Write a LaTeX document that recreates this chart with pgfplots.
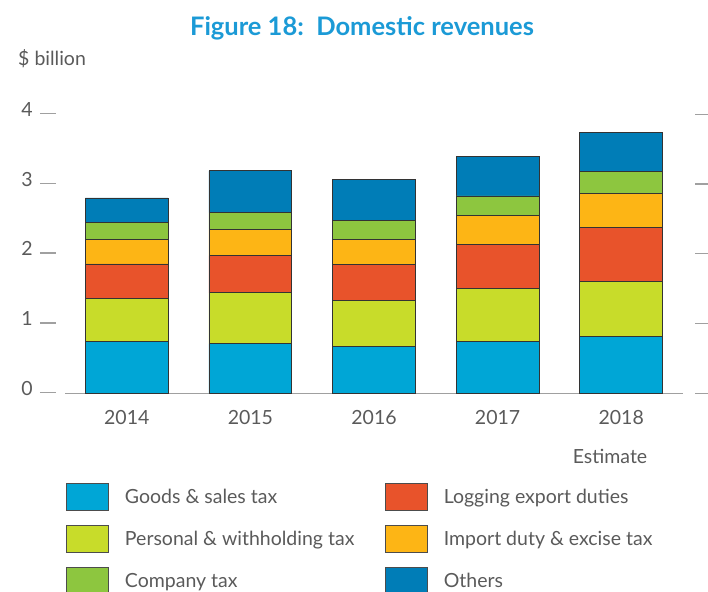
\documentclass[border=0pt]{standalone}
\usepackage{fontspec}
\setmainfont{Lato}
\usepackage{pgfplots}
\usepackage{pgfplotstable}
\pgfplotsset{compat=1.18}

\definecolor{cGoods}{HTML}{00A6D6}
\definecolor{cPersonal}{HTML}{C8DC2A}
\definecolor{cLogging}{HTML}{E8532B}
\definecolor{cImport}{HTML}{FDB515}
\definecolor{cCompany}{HTML}{8DC63F}
\definecolor{cOthers}{HTML}{007DB7}
\definecolor{titleblue}{HTML}{1B9AD6}
\definecolor{txtgray}{HTML}{5A5A5A}
\definecolor{tickgray}{HTML}{A0A0A0}

% $ billion, stacked by category
\pgfplotstableread{
year goods personal logging import company others
0    0.74  0.625    0.49    0.35   0.245   0.35
1    0.71  0.73     0.53    0.38   0.24    0.60
2    0.67  0.66     0.52    0.35   0.28    0.59
3    0.745 0.76     0.63    0.415  0.28    0.56
4    0.81  0.80     0.77    0.49   0.315   0.555
}\revtable

\newcommand{\lbl}{\fontsize{19.5}{22}\selectfont}

\begin{document}
\begin{tikzpicture}
\begin{axis}[
    scale only axis,
    width=618pt, height=279pt,
    xmin=-0.5, xmax=4.5,
    ymin=0, ymax=4,
    ybar stacked,
    bar width=0.67,
    clip=false,
    axis line style={draw=none},
    major tick length=0pt,
    xtick={0,...,4},
    xticklabels={2014,2015,2016,2017,2018},
    ytick={0,...,4},
    /pgf/number format/assume math mode=true,
    yticklabel={\pgfmathprintnumber{\tick}\hspace{7pt}\textcolor{tickgray}{\rule[2pt]{16pt}{1.3pt}}},
    yticklabel style={anchor=base east, inner sep=0pt, xshift=-9pt, yshift=-2pt, font=\lbl, text=txtgray},
    xticklabel style={anchor=north, inner sep=0pt, yshift=-17pt, font=\lbl, text=txtgray},
]
\addplot[fill=cGoods, draw=black!80, line width=0.8pt] table[x=year, y=goods] {\revtable};
\addplot[fill=cPersonal, draw=black!80, line width=0.8pt] table[x=year, y=personal] {\revtable};
\addplot[fill=cLogging, draw=black!80, line width=0.8pt] table[x=year, y=logging] {\revtable};
\addplot[fill=cImport, draw=black!80, line width=0.8pt] table[x=year, y=import] {\revtable};
\addplot[fill=cCompany, draw=black!80, line width=0.8pt] table[x=year, y=company] {\revtable};
\addplot[fill=cOthers, draw=black!80, line width=0.8pt] table[x=year, y=others] {\revtable};
\draw[tickgray, line width=1.5pt] (axis cs:-0.5,0) -- (axis cs:4.5,0);
\pgfplotsinvokeforeach{0,...,4}{
  \draw[tickgray, line width=1.3pt] ([xshift=12pt]axis cs:4.5,#1) -- ++(16pt,0);
}
\end{axis}

% legend in the reference's order
\begin{axis}[
    scale only axis,
    width=618pt, height=279pt,
    hide axis,
    xmin=0, xmax=1, ymin=0, ymax=1,
    legend columns=2,
    legend cell align=left,
    legend style={
        at={(axis description cs:0.0016,-0.322)}, anchor=north west,
        draw=none, fill=none, inner sep=0pt,
        row sep=14.2pt,
        nodes={inner sep=0pt},
        font=\lbl, text=txtgray,
        /tikz/every odd column/.append style={column sep=16pt},
        /tikz/every even column/.append style={column sep=16pt},
    },
    legend image code/.code={\draw[#1] (0pt,-13.5pt) rectangle (42pt,13.5pt);},
]
\addlegendimage{fill=cGoods, draw=black!70, line width=0.8pt}
\addlegendentry{\makebox[244pt][l]{Goods \& sales tax}}
\addlegendimage{fill=cLogging, draw=black!70, line width=0.8pt}
\addlegendentry{\makebox[244pt][l]{Logging export duties}}
\addlegendimage{fill=cPersonal, draw=black!70, line width=0.8pt}
\addlegendentry{\makebox[244pt][l]{Personal \& withholding tax}}
\addlegendimage{fill=cImport, draw=black!70, line width=0.8pt}
\addlegendentry{\makebox[244pt][l]{Import duty \& excise tax}}
\addlegendimage{fill=cCompany, draw=black!70, line width=0.8pt}
\addlegendentry{\makebox[244pt][l]{Company tax}}
\addlegendimage{fill=cOthers, draw=black!70, line width=0.8pt}
\addlegendentry{\makebox[244pt][l]{Others}}
\end{axis}

\node[font=\fontsize{25.5}{30}\selectfont\bfseries, text=titleblue] at (297pt,365pt) {Figure 18:\ \ Domestic revenues};
\node[font=\lbl, text=txtgray, anchor=west, inner sep=0pt] at (-47pt,335pt) {\$ billion};
\node[font=\lbl, text=txtgray] at (545pt,-62.7pt) {Estimate};

\pgfresetboundingbox
\path[use as bounding box] (-65pt,-197.7pt) rectangle (643pt,393.3pt);
\end{tikzpicture}
\end{document}
